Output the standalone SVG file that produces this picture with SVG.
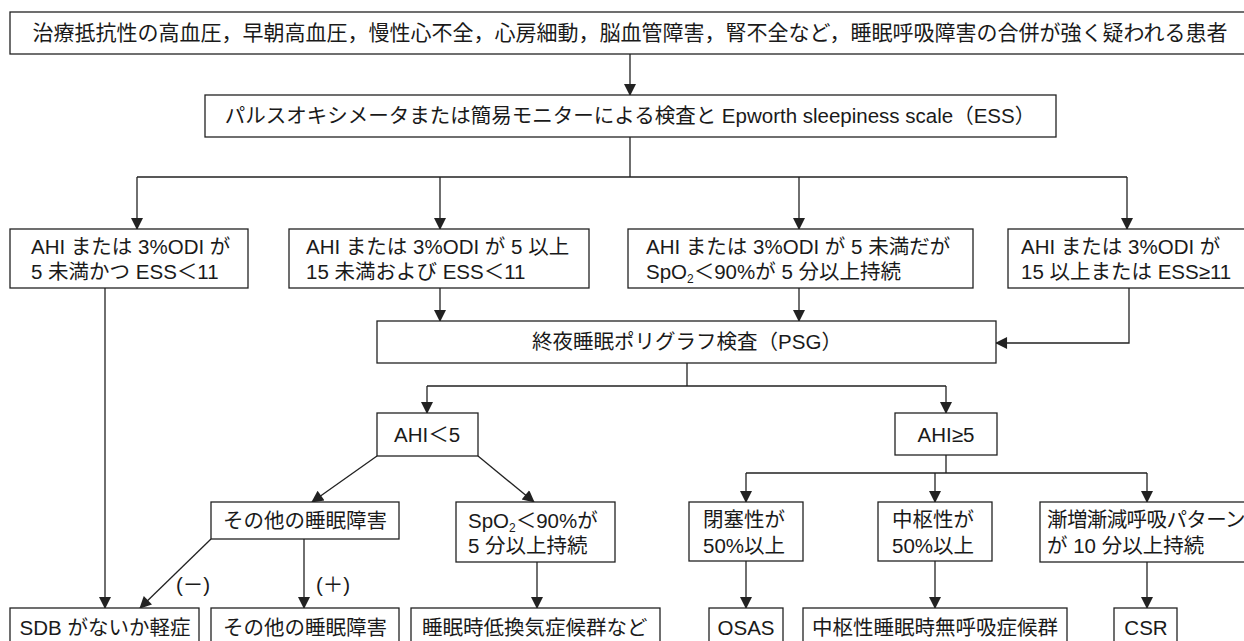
<svg xmlns="http://www.w3.org/2000/svg" width="1244" height="641" viewBox="0 0 1244 641">
<style>
rect{fill:#fff;stroke:#222;stroke-width:1.3}
text{font-family:"Liberation Sans","Noto Sans CJK JP",sans-serif;font-size:20.5px;fill:#1a1a1a}
.c{text-anchor:middle}
.sub{font-size:12px}
#connectors path,#connectors line{fill:none;stroke:#222;stroke-width:1.3}
</style>
<defs>
<marker id="ah" viewBox="0 0 12 13" refX="12" refY="6.5" markerWidth="13" markerHeight="12" markerUnits="userSpaceOnUse" orient="auto">
<path d="M0,0 L13,6.5 L0,13 Z" fill="#222"/>
</marker>
</defs>
<g id="connectors">
<line x1="630" y1="54" x2="630" y2="95" marker-end="url(#ah)"/>
<path d="M630,137 V177 M137,177 H1127"/>
<line x1="137" y1="177" x2="137" y2="229" marker-end="url(#ah)"/>
<line x1="440" y1="177" x2="440" y2="229" marker-end="url(#ah)"/>
<line x1="799" y1="177" x2="799" y2="229" marker-end="url(#ah)"/>
<line x1="1127" y1="177" x2="1127" y2="229" marker-end="url(#ah)"/>
<line x1="105" y1="288" x2="105" y2="608" marker-end="url(#ah)"/>
<line x1="440" y1="288" x2="440" y2="321" marker-end="url(#ah)"/>
<line x1="799" y1="288" x2="799" y2="321" marker-end="url(#ah)"/>
<path d="M1129,288 V343 H996" marker-end="url(#ah)"/>
<path d="M687,363 V386 M427,386 H946"/>
<line x1="427" y1="386" x2="427" y2="413" marker-end="url(#ah)"/>
<line x1="946" y1="386" x2="946" y2="413" marker-end="url(#ah)"/>
<line x1="377" y1="456" x2="312" y2="502" marker-end="url(#ah)"/>
<line x1="478" y1="456" x2="534" y2="502" marker-end="url(#ah)"/>
<line x1="211" y1="539" x2="140" y2="608" marker-end="url(#ah)"/>
<line x1="304" y1="539" x2="304" y2="608" marker-end="url(#ah)"/>
<line x1="537" y1="562" x2="537" y2="608" marker-end="url(#ah)"/>
<path d="M946,455 V473 M746,473 H1147"/>
<line x1="746" y1="473" x2="746" y2="502" marker-end="url(#ah)"/>
<line x1="935" y1="473" x2="935" y2="502" marker-end="url(#ah)"/>
<line x1="1147" y1="473" x2="1147" y2="502" marker-end="url(#ah)"/>
<line x1="746" y1="561" x2="746" y2="608" marker-end="url(#ah)"/>
<line x1="935" y1="561" x2="935" y2="608" marker-end="url(#ah)"/>
<line x1="1147" y1="562" x2="1147" y2="608" marker-end="url(#ah)"/>
</g>
<g id="top"><rect x="10" y="12" width="1240" height="42"/><text class="c" x="630" y="40" style="font-size:21px">治療抵抗性の高血圧，早朝高血圧，慢性心不全，心房細動，脳血管障害，腎不全など，睡眠呼吸障害の合併が強く疑われる患者</text></g>
<g id="screen"><rect x="205" y="95" width="851" height="42"/><text class="c" x="630" y="123">パルスオキシメータまたは簡易モニターによる検査と Epworth sleepiness scale（ESS）</text></g>
<g id="condA"><rect x="10" y="229" width="238" height="59"/><text x="31" y="254">AHI または 3%ODI が</text><text x="31" y="279">5 未満かつ ESS＜11</text></g>
<g id="condB"><rect x="289" y="229" width="300" height="59"/><text x="306" y="254">AHI または 3%ODI が 5 以上</text><text x="306" y="279">15 未満および ESS＜11</text></g>
<g id="condC"><rect x="628" y="229" width="345" height="59"/><text x="646" y="254">AHI または 3%ODI が 5 未満だが</text><text x="646" y="279">SpO<tspan class="sub" dy="4">2</tspan><tspan dy="-4">＜90%が 5 分以上持続</tspan></text></g>
<g id="condD"><rect x="1008" y="229" width="242" height="59"/><text x="1021" y="254">AHI または 3%ODI が</text><text x="1021" y="279">15 以上または ESS≥11</text></g>
<g id="psg"><rect x="377" y="321" width="619" height="42"/><text class="c" x="687" y="349">終夜睡眠ポリグラフ検査（PSG）</text></g>
<g id="ahiLow"><rect x="377" y="413" width="101" height="43"/><text class="c" x="427" y="442">AHI＜5</text></g>
<g id="ahiHigh"><rect x="895" y="413" width="102" height="42"/><text class="c" x="946" y="442">AHI≥5</text></g>
<g id="other1"><rect x="211" y="502" width="188" height="37"/><text class="c" x="305" y="528">その他の睡眠障害</text></g>
<g id="spo2"><rect x="456" y="502" width="159" height="60"/><text x="468" y="528">SpO<tspan class="sub" dy="4">2</tspan><tspan dy="-4">＜90%が</tspan></text><text x="468" y="553">5 分以上持続</text></g>
<g id="obs"><rect x="689" y="502" width="114" height="59"/><text x="703" y="527">閉塞性が</text><text x="703" y="553">50%以上</text></g>
<g id="cen"><rect x="878" y="502" width="114" height="59"/><text x="892" y="527">中枢性が</text><text x="892" y="553">50%以上</text></g>
<g id="cres"><rect x="1040" y="502" width="210" height="60"/><text x="1047" y="527" style="letter-spacing:-0.6px">漸増漸減呼吸パターン</text><text x="1047" y="553">が 10 分以上持続</text></g>
<g id="labels"><text x="176" y="592">(－)</text><text x="316" y="592">(＋)</text></g>
<g id="sdb"><rect x="10" y="608" width="189" height="50"/><text class="c" x="105" y="635">SDB がないか軽症</text></g>
<g id="other2"><rect x="211" y="608" width="188" height="50"/><text class="c" x="305" y="635">その他の睡眠障害</text></g>
<g id="hypo"><rect x="411" y="608" width="249" height="50"/><text x="422" y="635">睡眠時低換気症候群など</text></g>
<g id="osas"><rect x="709" y="608" width="74" height="50"/><text class="c" x="746" y="635">OSAS</text></g>
<g id="csas"><rect x="803" y="608" width="264" height="50"/><text class="c" x="935" y="635">中枢性睡眠時無呼吸症候群</text></g>
<g id="csr"><rect x="1114" y="608" width="63" height="50"/><text class="c" x="1146" y="635">CSR</text></g>
</svg>
